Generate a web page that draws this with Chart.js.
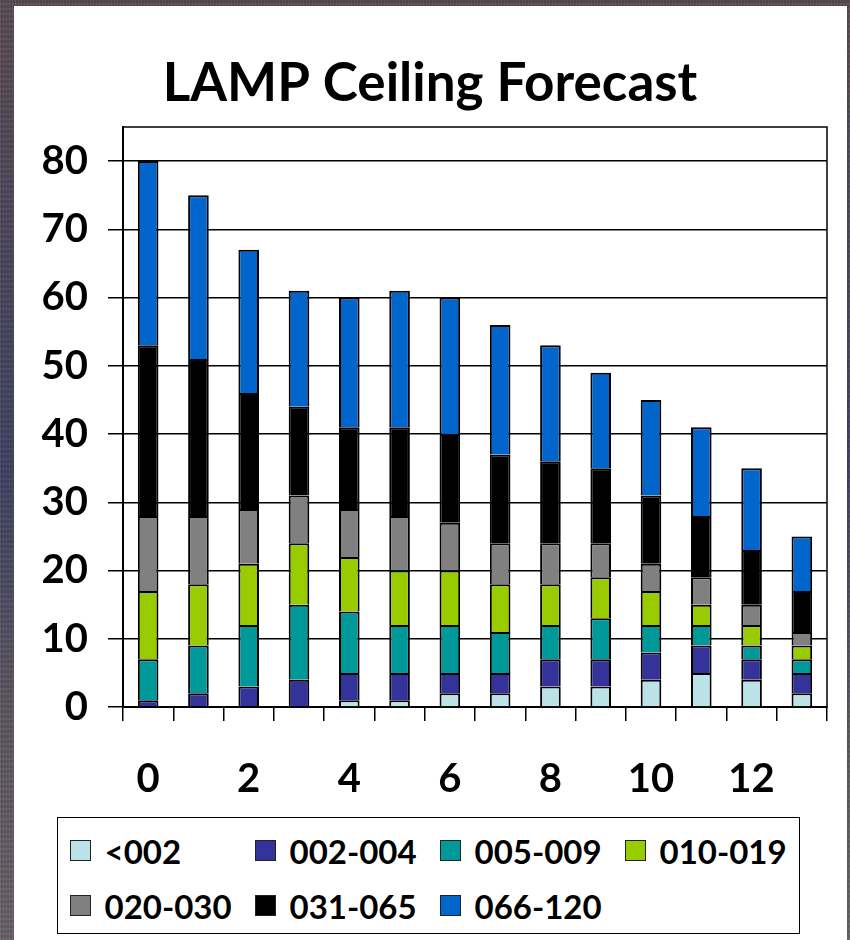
<!DOCTYPE html>
<html>
<head>
<meta charset="utf-8">
<script src="https://cdn.jsdelivr.net/npm/chart.js@4.4.1/dist/chart.umd.min.js"></script>
<style>
  html, body { margin: 0; padding: 0; }
  body {
    width: 850px; height: 940px; overflow: hidden; position: relative;
    background:
      repeating-linear-gradient(90deg, rgba(255,255,255,0.05) 0 1px, rgba(0,0,0,0.06) 1px 3px),
      repeating-linear-gradient(0deg, rgba(255,255,255,0.04) 0 2px, rgba(0,0,0,0.05) 2px 5px),
      linear-gradient(180deg, #5a4b52 0%, #46445e 35%, #3e4262 50%, #5c5560 75%, #6a6168 100%);
  }
  #panel { position: absolute; left: 14px; top: 6px; width: 833px; height: 934px; background: #fff; }
  #wrap { position: absolute; left: 0; top: 0; width: 850px; height: 940px; }
  #legend {
    position: absolute; left: 57px; top: 817px; width: 743px; height: 117px;
    box-sizing: border-box; border: 1.5px solid #000; background: #fff;
    font-family: Lato, "DejaVu Sans", sans-serif; font-weight: bold; font-size: 33px; color: #000;
  }
  .item { position: absolute; display: flex; align-items: center; height: 40px; white-space: nowrap; }
  .sw { width: 21px; height: 21px; box-sizing: border-box; border: 1.5px solid #222; margin-right: 14px; flex: none; }
</style>
</head>
<body>
<div id="panel"></div>
<div id="wrap"><canvas id="c" width="850" height="940"></canvas></div>
<div id="legend"></div>
<script>
// Forecast hour on the x axis
const hours = ['0','1','2','3','4','5','6','7','8','9','10','11','12','13'];
const xTickLabels = ['0','2','4','6','8','10','12'];
const yTickValues = [0, 10, 20, 30, 40, 50, 60, 70, 80];
const yAxisMax = 85;

// Ceiling category counts, stacked from lowest to highest ceiling
const ceilBelow002 = [0, 0, 0, 0, 1, 1, 2, 2, 3, 3, 4, 5, 4, 2];
const ceil002to004 = [1, 2, 3, 4, 4, 4, 3, 3, 4, 4, 4, 4, 3, 3];
const ceil005to009 = [6, 7, 9, 11, 9, 7, 7, 6, 5, 6, 4, 3, 2, 2];
const ceil010to019 = [10, 9, 9, 9, 8, 8, 8, 7, 6, 6, 5, 3, 3, 2];
const ceil020to030 = [11, 10, 8, 7, 7, 8, 7, 6, 6, 5, 4, 4, 3, 2];
const ceil031to065 = [25, 23, 17, 13, 12, 13, 13, 13, 12, 11, 10, 9, 8, 6];
const ceil066to120 = [27, 24, 21, 17, 19, 20, 20, 19, 17, 14, 14, 13, 12, 8];

const seriesNames = ['<002', '002-004', '005-009', '010-019', '020-030', '031-065', '066-120'];
const seriesValues = [ceilBelow002, ceil002to004, ceil005to009, ceil010to019, ceil020to030, ceil031to065, ceil066to120];
const seriesColors = ['#BBE2E6', '#333399', '#009999', '#99CC00', '#808080', '#000000', '#0066CC'];

// Black frame around the plotting area
const plotFrame = {
  id: 'plotFrame',
  beforeDatasetsDraw(chart) {
    const { ctx, chartArea: a } = chart;
    ctx.save();
    ctx.strokeStyle = '#000';
    ctx.lineWidth = 1.5;
    ctx.strokeRect(a.left, a.top, a.right - a.left, a.bottom - a.top);
    ctx.restore();
  }
};

function build() {
  Chart.defaults.font.family = 'Lato, "DejaVu Sans", sans-serif';
  Chart.defaults.color = '#000';

  const chart = new Chart(document.getElementById('c'), {
    type: 'bar',
    data: {
      labels: hours,
      datasets: seriesNames.map((name, i) => ({
        label: name,
        data: seriesValues[i],
        backgroundColor: seriesColors[i],
        borderColor: '#000',
        borderWidth: 2,
        barPercentage: 0.41,
        categoryPercentage: 1.0
      }))
    },
    options: {
      responsive: false,
      animation: false,
      devicePixelRatio: 1,
      layout: { padding: { top: 6, left: 33, right: 23, bottom: 133 } },
      plugins: {
        legend: { display: false },
        tooltip: { enabled: false },
        title: {
          display: true,
          text: 'LAMP Ceiling Forecast',
          color: '#000',
          font: { size: 53, weight: 'bold' },
          padding: { top: 46, bottom: 11.4 }
        }
      },
      scales: {
        x: {
          stacked: true,
          grid: { display: true, drawOnChartArea: false, drawTicks: true, tickLength: 14, color: '#000', lineWidth: 1.5, offset: true },
          border: { display: true, color: '#000', width: 2 },
          ticks: {
            autoSkip: false, maxRotation: 0, minRotation: 0, padding: 34,
            font: { size: 40, weight: 'bold' }, color: '#000',
            callback(v) {
              const lab = this.getLabelForValue(v);
              return xTickLabels.includes(lab) ? lab : '';
            }
          },
          afterFit(scale) { scale.height = 100; }
        },
        y: {
          stacked: true,
          min: 0,
          max: yAxisMax,
          afterBuildTicks(scale) { scale.ticks = yTickValues.map(v => ({ value: v })); },
          grid: { color: '#000', lineWidth: 1.5, drawTicks: true, tickLength: 15 },
          border: { display: true, color: '#000', width: 2 },
          ticks: { padding: 20, font: { size: 40, weight: 'bold' }, color: '#000' },
          afterFit(scale) { scale.width = 90; }
        }
      }
    },
    plugins: [plotFrame]
  });

  // Legend laid out in four columns, built from the chart's datasets
  const legend = document.getElementById('legend');
  chart.data.datasets.forEach((ds, i) => {
    const col = i % 4, row = Math.floor(i / 4);
    const item = document.createElement('div');
    item.className = 'item';
    item.style.left = (11.5 + col * 185) + 'px';
    item.style.top = (12.5 + row * 55) + 'px';
    const sw = document.createElement('span');
    sw.className = 'sw';
    sw.style.background = ds.backgroundColor;
    const txt = document.createElement('span');
    txt.textContent = ds.label;
    item.appendChild(sw);
    item.appendChild(txt);
    legend.appendChild(item);
  });
}

if (document.fonts && document.fonts.load) {
  Promise.all([
    document.fonts.load('bold 53px Lato'),
    document.fonts.load('bold 40px Lato')
  ]).then(build, build);
} else {
  build();
}
</script>
</body>
</html>
